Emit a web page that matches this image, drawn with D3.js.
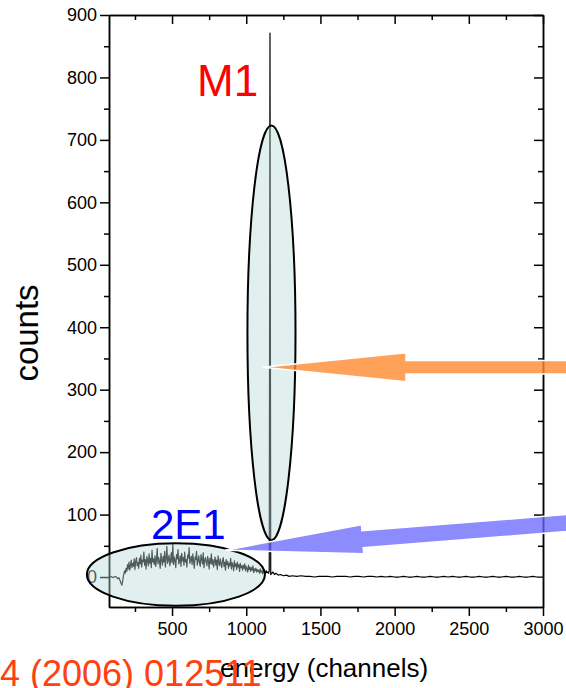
<!DOCTYPE html>
<html>
<head>
<meta charset="utf-8">
<script src="https://cdn.jsdelivr.net/npm/d3@7"></script>
<style>
  body { margin: 0; background: #fff; }
  svg text { font-family: "Liberation Sans", Arial, sans-serif; }
</style>
</head>
<body>
<div id="container"></div>
<script>
/* DATA */
const channels = [
  75, 85, 95, 105, 115, 125, 135, 142, 150, 156, 162, 168, 174, 180,
  185, 190, 195, 200, 205, 210, 215, 220, 225, 230,
  235, 240, 245, 250, 255, 260, 265, 270, 275, 280,
  285, 290, 295, 300, 305, 310, 315, 320, 325, 330,
  335, 340, 345, 350, 355, 360, 365, 370, 375, 380,
  385, 390, 395, 400, 405, 410, 415, 420, 425, 430,
  435, 440, 445, 450, 455, 460, 465, 470, 475, 480,
  485, 490, 495, 500, 505, 510, 515, 520, 525, 530,
  535, 540, 545, 550, 555, 560, 565, 570, 575, 580,
  585, 590, 595, 600, 605, 610, 615, 620, 625, 630,
  635, 640, 645, 650, 655, 660, 665, 670, 675, 680,
  685, 690, 695, 700, 705, 710, 715, 720, 725, 730,
  735, 740, 745, 750, 755, 760, 765, 770, 775, 780,
  785, 790, 795, 800, 805, 810, 815, 820, 825, 830,
  835, 840, 845, 850, 855, 860, 865, 870, 875, 880,
  885, 890, 895, 900, 905, 910, 915, 920, 925, 930,
  935, 940, 945, 950, 955, 960, 965, 970, 975, 980,
  985, 990, 995, 1000, 1005, 1010, 1015, 1020, 1025, 1030,
  1035, 1040, 1045, 1050, 1055, 1060, 1065, 1070, 1075, 1080,
  1085, 1090, 1095, 1100, 1105, 1110, 1115, 1120, 1125, 1130,
  1135, 1140, 1145, 1150,
  1155, 1160, 1165,
  1172, 1180, 1190, 1200, 1215, 1230, 1250, 1270, 1290, 1310,
  1340, 1370, 1400, 1430, 1460, 1490, 1520, 1550, 1580, 1610,
  1640, 1670, 1700, 1730, 1760, 1790, 1820, 1850, 1880, 1910,
  1940, 1970, 2000, 2030, 2060, 2090, 2120, 2150, 2180, 2210,
  2240, 2270, 2300, 2330, 2360, 2390, 2420, 2450, 2480, 2510,
  2540, 2570, 2600, 2630, 2660, 2690, 2720, 2750, 2780, 2810,
  2840, 2870, 2900, 2930, 2960, 3000
];
const counts = [
  0, 1, 0, -1, 1, 0, -3, -1, -6, -10, -13, -5, 4, 10,
  6, 14, 9, 20, 13, 24, 11, 19, 27, 15,
  22, 17, 29, 12, 25, 31, 18, 23, 14, 30,
  21, 35, 16, 27, 24, 40, 19, 28, 13, 33,
  26, 18, 37, 22, 30, 15, 43, 24, 29, 20,
  34, 17, 28, 46, 21, 31, 25, 14, 38, 27,
  19, 33, 24, 41, 16, 30, 49, 22, 28, 35,
  18, 26, 39, 23, 52, 20, 32, 27, 15, 36,
  29, 44, 21, 25, 34, 17, 38, 26, 31, 19,
  40, 24, 28, 16, 35, 30, 47, 22, 27, 33,
  20, 37, 25, 14, 32, 28, 41, 19, 26, 34,
  23, 17, 36, 29, 21, 39, 15, 27, 31, 24,
  18, 33, 26, 13, 30, 22, 37, 20, 28, 16,
  25, 32, 19, 27, 12, 34, 23, 18, 29, 21,
  15, 26, 31, 17, 24, 11, 28, 20, 25, 14,
  22, 18, 30, 13, 23, 19, 10, 26, 17, 21,
  12, 24, 16, 20, 9, 22, 15, 18, 11, 19,
  14, 21, 10, 17, 13, 8, 19, 12, 16, 9,
  15, 11, 18, 7, 13, 10, 14, 8, 12, 9,
  11, 6, 13, 8, 10, 5, 12, 7, 9, 6,
  10, 7, 8, 6,
  10, 871, 4,
  6, 8, 4, 6, 3, 4, 2, 3, 1, 2,
  1, 2, 1, 1, 0, 1, 1, 1, 0, 1,
  1, 1, 0, 1, 1, 0, 1, 1, 0, 1,
  0, 1, 0, 0, 1, 0, 0, 1, 0, 0,
  1, 0, 0, 1, 0, 1, 0, 0, 1, 0,
  0, 1, 0, 0, 1, 0, 0, 1, 0, 0,
  1, 0, 0, 1, 0, 0
];

const xMajorTicks = [500, 1000, 1500, 2000, 2500, 3000];
const xMinorTicks = [250, 750, 1250, 1750, 2250, 2750];
const yMajorTicks = [0, 100, 200, 300, 400, 500, 600, 700, 800, 900];
const yMinorTicks = [50, 150, 250, 350, 450, 550, 650, 750, 850];

const peakLabels = ["M1", "2E1"];

/* CONSTANTS AND GLOBALS */
const width = 566,
      height = 688;

const svg = d3.select("#container")
  .append("svg")
  .attr("width", width)
  .attr("height", height);

const xScale = d3.scaleLinear().domain([75, 3000]).range([109, 543]);
const yScale = d3.scaleLinear().domain([-48, 900]).range([607, 15]);

const x0 = xScale.range()[0], x1 = xScale.range()[1];
const yTop = yScale.range()[1], yBot = yScale.range()[0];
const fmt = d3.format("d");

function styleAxis(g) {
  g.selectAll("path.domain").attr("stroke", "#000").attr("stroke-width", 1.5);
  g.selectAll(".tick line").attr("stroke", "#000").attr("stroke-width", 1.5);
  g.selectAll("text").attr("fill", "#000").style("font-size", "18px")
    .style("font-family", "'Liberation Sans', Arial, sans-serif");
}

/* AXES */
// bottom
svg.append("g")
  .attr("transform", "translate(0," + yBot + ")")
  .call(d3.axisBottom(xScale).tickValues(xMinorTicks).tickSize(5).tickSizeOuter(0).tickFormat(""))
  .call(styleAxis);
svg.append("g")
  .attr("transform", "translate(0," + yBot + ")")
  .call(d3.axisBottom(xScale).tickValues(xMajorTicks).tickSize(9).tickPadding(6).tickSizeOuter(0).tickFormat(fmt))
  .call(styleAxis);
// top (ticks inward)
svg.append("g")
  .attr("transform", "translate(0," + yTop + ")")
  .call(d3.axisTop(xScale).tickValues(xMinorTicks).tickSize(-5).tickSizeOuter(0).tickFormat(""))
  .call(styleAxis);
svg.append("g")
  .attr("transform", "translate(0," + yTop + ")")
  .call(d3.axisTop(xScale).tickValues(xMajorTicks).tickSize(-9).tickSizeOuter(0).tickFormat(""))
  .call(styleAxis);
// left
svg.append("g")
  .attr("transform", "translate(" + x0 + ",0)")
  .call(d3.axisLeft(yScale).tickValues(yMinorTicks).tickSize(5).tickSizeOuter(0).tickFormat(""))
  .call(styleAxis);
svg.append("g")
  .attr("transform", "translate(" + x0 + ",0)")
  .call(d3.axisLeft(yScale).tickValues(yMajorTicks).tickSize(9).tickPadding(3).tickSizeOuter(0).tickFormat(fmt))
  .call(styleAxis);
// right (ticks inward)
svg.append("g")
  .attr("transform", "translate(" + x1 + ",0)")
  .call(d3.axisRight(yScale).tickValues(yMinorTicks).tickSize(-5).tickSizeOuter(0).tickFormat(""))
  .call(styleAxis);
svg.append("g")
  .attr("transform", "translate(" + x1 + ",0)")
  .call(d3.axisRight(yScale).tickValues(yMajorTicks.filter(d => d > 0)).tickSize(-9).tickSizeOuter(0).tickFormat(""))
  .call(styleAxis);

/* SPECTRUM */
const line = d3.line()
  .x((d, i) => xScale(channels[i]))
  .y(d => yScale(d));

svg.append("path")
  .datum(counts)
  .attr("d", line)
  .attr("fill", "none")
  .attr("stroke", "#000")
  .attr("stroke-width", 1.2)
  .attr("stroke-linejoin", "round");

/* ELLIPSES (semi transparent, over the spectrum) */
const ellipses = [
  {cx: 526, cy: 4, rx: 600, ry: 50},
  {cx: 1170, cy: 391, rx: 162, ry: 332}
];
svg.selectAll("ellipse.mark")
  .data(ellipses)
  .enter().append("ellipse")
  .attr("cx", d => xScale(d.cx))
  .attr("cy", d => yScale(d.cy))
  .attr("rx", d => xScale(d.cx + d.rx) - xScale(d.cx))
  .attr("ry", d => yScale(d.cy - d.ry) - yScale(d.cy))
  .attr("fill", "rgb(186,216,216)")
  .attr("fill-opacity", 0.42)
  .attr("stroke", "#000")
  .attr("stroke-width", 2);

/* ARROWS */
const arrows = [
  {tip: [1113, 336], tail: [3400, 336], shaft: 6.7, head: 14.5, len: 143, color: "#ff8a30", op: 0.8},
  {tip: [857, 43], tail: [3400, 91], shaft: 8.5, head: 14.5, len: 138, color: "#6666ff", op: 0.75}
];
function arrowPoints(a) {
  const tx = xScale(a.tip[0]), ty = yScale(a.tip[1]);
  const ex = xScale(a.tail[0]), ey = yScale(a.tail[1]);
  const L = Math.hypot(ex - tx, ey - ty);
  const ux = (ex - tx) / L, uy = (ey - ty) / L;
  const nx = -uy, ny = ux;
  const bx = tx + ux * a.len, by = ty + uy * a.len;
  return [
    [tx, ty],
    [bx + nx * a.head, by + ny * a.head],
    [bx + nx * a.shaft, by + ny * a.shaft],
    [ex + nx * a.shaft, ey + ny * a.shaft],
    [ex - nx * a.shaft, ey - ny * a.shaft],
    [bx - nx * a.shaft, by - ny * a.shaft],
    [bx - nx * a.head, by - ny * a.head]
  ];
}
svg.selectAll("polygon.arrow")
  .data(arrows)
  .enter().append("polygon")
  .attr("points", d => arrowPoints(d).map(p => p.join(",")).join(" "))
  .attr("fill", d => d.color)
  .attr("fill-opacity", d => d.op)
  .attr("stroke", "#fff")
  .attr("stroke-width", 1.5)
  .attr("stroke-linejoin", "miter");

/* LABELS */
svg.append("text")
  .attr("x", xScale(668)).attr("y", yScale(771))
  .attr("fill", "#ff0000")
  .style("font-size", "44px")
  .text(peakLabels[0]);

svg.append("text")
  .attr("x", xScale(358)).attr("y", yScale(61))
  .attr("fill", "#0000ff")
  .style("font-size", "42px")
  .text(peakLabels[1]);

svg.append("text")
  .attr("transform", "translate(38,333) rotate(-90)")
  .attr("text-anchor", "middle")
  .attr("fill", "#000")
  .style("font-size", "33px")
  .text("counts");

svg.append("text")
  .attr("x", 220).attr("y", 677)
  .attr("fill", "#000")
  .style("font-size", "26px")
  .text("energy (channels)");

svg.append("text")
  .attr("x", 0).attr("y", 686)
  .attr("fill", "#ff4010")
  .style("font-size", "36px")
  .text("4 (2006) 012511");
</script>
</body>
</html>
